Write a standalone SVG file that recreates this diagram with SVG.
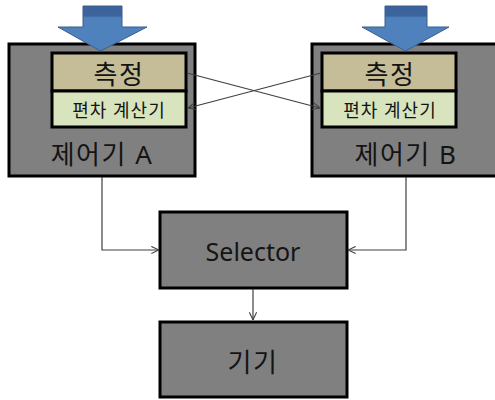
<svg xmlns="http://www.w3.org/2000/svg" width="495" height="400" viewBox="0 0 495 400">
<style>
.box{fill:#808080;stroke:#000;stroke-width:3}
.meas{fill:#c4bd97;stroke:#000;stroke-width:3}
.dev{fill:#d7e4bd;stroke:#000;stroke-width:3}
.blk{fill:url(#ag);stroke:#3a5f8f;stroke-width:1}
text{font-family:"Noto Sans","Noto Sans CJK KR",sans-serif;fill:#141414;text-anchor:middle}
.big{font-size:26px;letter-spacing:1.5px}
.lat{font-size:25px}
.small{font-size:18px;letter-spacing:1px}
.conn{fill:none;stroke:#404040;stroke-width:1.2}
</style>
<defs>
<linearGradient id="ag" x1="0" y1="0" x2="0" y2="1">
<stop offset="0" stop-color="#3b6299"/>
<stop offset="0.22" stop-color="#3d659d"/>
<stop offset="0.26" stop-color="#4f81bd"/>
<stop offset="1" stop-color="#4f81bd"/>
</linearGradient>
<marker id="arr" viewBox="0 0 10 10" refX="9.5" refY="5" markerWidth="9" markerHeight="9" markerUnits="userSpaceOnUse" orient="auto">
<path d="M1,1 L9.5,5 L1,9" fill="none" stroke="#404040" stroke-width="1.2"/>
</marker>
</defs>

<g id="controllerA">
<rect class="box" x="9" y="44" width="186" height="132"/>
<rect class="meas" x="52" y="53" width="134" height="38"/>
<rect class="dev" x="52" y="91" width="134" height="36"/>
<text class="big" x="119" y="84">측정</text>
<text class="small" x="119" y="117">편차 계산기</text>
<text class="big" x="102" y="164">제어기 A</text>
<polygon class="blk" points="83,6 122,6 122,27 147,27 100.5,51 58,27 83,27"/>
</g>

<g id="controllerB">
<rect class="box" x="312" y="44" width="186" height="132"/>
<rect class="meas" x="322" y="53" width="134" height="38"/>
<rect class="dev" x="322" y="91" width="134" height="36"/>
<text class="big" x="390" y="84">측정</text>
<text class="small" x="390" y="117">편차 계산기</text>
<text class="big" x="406" y="164">제어기 B</text>
<polygon class="blk" points="385,6 427,6 427,27 449,27 405.5,51 362,27 385,27"/>
</g>

<g id="selector">
<rect class="box" x="160" y="212" width="187" height="76"/>
<text class="lat" x="253" y="261">Selector</text>
</g>

<g id="device">
<rect class="box" x="160" y="322" width="187" height="75"/>
<text class="big" x="253" y="372">기기</text>
</g>

<g id="connectors">
<line class="conn" x1="187" y1="73" x2="320" y2="108" marker-end="url(#arr)"/>
<line class="conn" x1="321" y1="73" x2="188" y2="108" marker-end="url(#arr)"/>
<path class="conn" d="M102,177 V250 H159" marker-end="url(#arr)"/>
<path class="conn" d="M406,177 V250 H348" marker-end="url(#arr)"/>
<line class="conn" x1="253" y1="289" x2="253" y2="320" marker-end="url(#arr)"/>
</g>
</svg>
